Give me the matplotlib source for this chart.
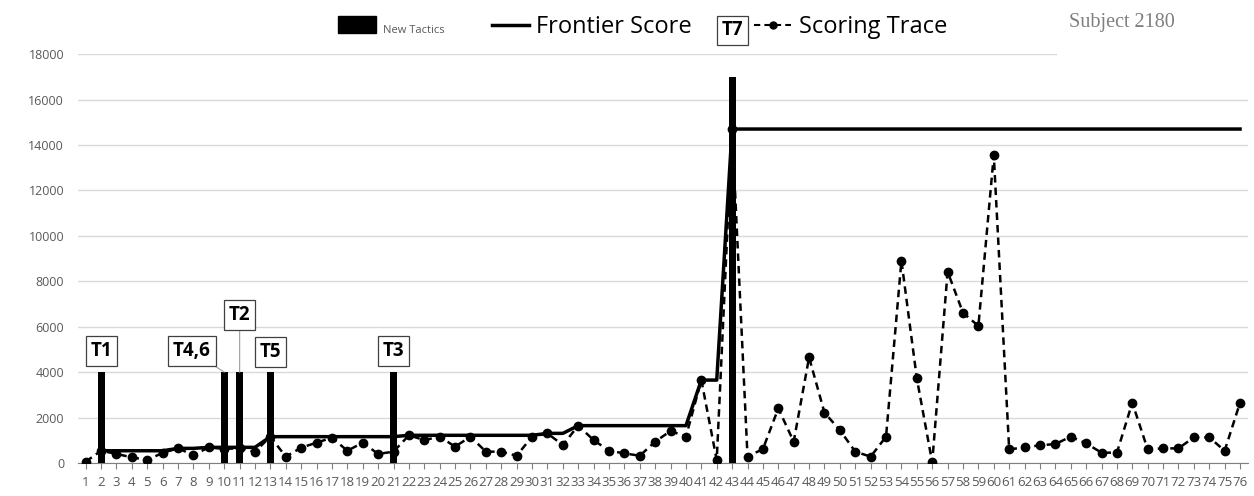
import numpy as np
import matplotlib.pyplot as plt
from matplotlib.lines import Line2D
from matplotlib.patches import Patch, Rectangle

plt.rcParams['font.family'] = ['Open Sans', 'DejaVu Sans']

# Data
sessions = list(range(1, 77))

scoring_trace = [
    60, 540, 400, 250, 130, 450, 645, 350, 690, 620,
    650, 500, 1160, 280, 675, 895, 1115, 540, 895, 400,
    500, 1220, 1010, 1160, 720, 1160, 500, 500, 320, 1160,
    1305, 790, 1645, 1010, 540, 425, 320, 940, 1410, 1160,
    3650, 130, 14700, 280, 615, 2405, 940, 4650, 2215, 1450,
    500, 280, 1160, 8905, 3725, 30, 8420, 6615, 6030, 13550,
    600, 690, 780, 835, 1160, 865, 455, 455, 2655, 600,
    645, 645, 1130, 1130, 540, 2655,
]

frontier_score = [
    np.nan, 540, 540, 540, 540, 540, 645, 645, 690, 690,
    690, 690, 1160, 1160, 1160, 1160, 1160, 1160, 1160, 1160,
    1160, 1220, 1220, 1220, 1220, 1220, 1220, 1220, 1220, 1220,
    1305, 1305, 1645, 1645, 1645, 1645, 1645, 1645, 1645, 1645,
    3650, 3650, 14700, 14700, 14700, 14700, 14700, 14700, 14700, 14700,
    14700, 14700, 14700, 14700, 14700, 14700, 14700, 14700, 14700, 14700,
    14700, 14700, 14700, 14700, 14700, 14700, 14700, 14700, 14700, 14700,
    14700, 14700, 14700, 14700, 14700, 14700,
]

tactic_sessions = [2, 10, 11, 13, 21, 43]
tactic_heights = [4000, 4000, 4000, 4000, 4000, 17000]

# label text and box position (x, y)
tactic_labels = ['T1', 'T4,6', 'T2', 'T5', 'T3', 'T7']
label_pos = [(2, 4930), (7.9, 4930), (11, 6520), (13, 4890), (21, 4930), (43, 19050)]

fig = plt.figure(figsize=(12.54, 4.96), dpi=100)
ax = fig.add_axes([0.0622, 0.0665, 0.9328, 0.8245])

ax.bar(tactic_sessions, tactic_heights, width=0.45, color='black', zorder=5)
ax.plot(sessions, frontier_score, color='black', lw=2.5, zorder=3)
ax.plot(sessions, scoring_trace, color='black', lw=1.8, ls=(0, (3, 2)),
        marker='o', ms=6, zorder=4)

ax.set_xlim(0.5, 76.5)
ax.set_ylim(0, 18000)
ax.set_yticks(range(0, 18001, 2000))
ax.set_xticks(sessions)
ax.set_xticklabels([str(s) for s in sessions])
ax.tick_params(axis='y', length=0, labelsize=9, labelcolor='#595959', pad=10)
ax.tick_params(axis='x', length=4, color='#7f7f7f', labelsize=9.5,
               labelcolor='#595959', pad=5)
ax.grid(axis='y', color='#d9d9d9', lw=1)
ax.set_axisbelow(True)
for s in ['left', 'right', 'top']:
    ax.spines[s].set_visible(False)
ax.spines['bottom'].set_color('#7f7f7f')

for i, lab in enumerate(tactic_labels):
    box = dict(boxstyle='square,pad=0.25', fc='white', ec='#404040', lw=0.9)
    if lab in ('T4,6', 'T2'):
        ax.annotate(lab, xy=(tactic_sessions[i], tactic_heights[i]), xytext=label_pos[i],
                    ha='center', va='center', fontsize=13.5, fontweight='bold',
                    bbox=box, annotation_clip=False, zorder=6,
                    arrowprops=dict(arrowstyle='-', color='#a6a6a6', lw=0.9,
                                    shrinkA=0, shrinkB=0))
    else:
        ax.text(label_pos[i][0], label_pos[i][1], lab, ha='center', va='center',
                fontsize=13.5, fontweight='bold', bbox=box, clip_on=False, zorder=6)

# legend in two pieces so the T7 box sits in the gap
h_bar = Patch(color='black')
h_front = Line2D([], [], color='black', lw=2.5)
h_trace = Line2D([], [], color='black', lw=1.5, ls=(0, (3, 2)), marker='o', ms=5)
leg_kw = dict(frameon=False, fontsize=17, handlelength=1.6, handletextpad=0.3,
              borderpad=0, borderaxespad=0)
leg1 = fig.legend([h_bar, h_front], ['New Tactics', 'Frontier Score'], ncol=2,
                  loc='center right', bbox_to_anchor=(0.552, 0.946),
                  columnspacing=2.0, **leg_kw)
leg1.get_texts()[0].set_fontsize(8)
leg1.get_texts()[0].set_color('#595959')
fig.legend([h_trace], ['Scoring Trace'], loc='center left',
           bbox_to_anchor=(0.601, 0.946), **leg_kw)

# white box behind the subject label hides the end of the top gridline
fig.add_artist(Rectangle((0.843, 0.86), 0.157, 0.14, transform=fig.transFigure,
                         fc='white', ec='none', zorder=10))
fig.text(0.895, 0.955, 'Subject 2180', family='Liberation Serif', fontsize=14.5,
         color='#7f7f7f', ha='center', va='center', zorder=11)

fig.savefig('out.png', dpi=100)
